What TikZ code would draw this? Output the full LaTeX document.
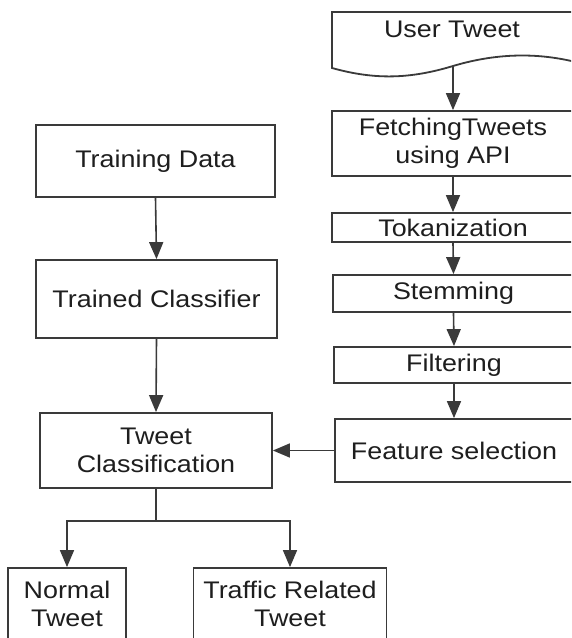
\documentclass[tikz,border=0pt]{standalone}
\usepackage{fontspec}
\setmainfont[FakeStretch=1.12]{Liberation Sans}
\usetikzlibrary{arrows.meta}
\definecolor{linec}{HTML}{3A3A3A}
\definecolor{textc}{HTML}{1E1E1E}
\begin{document}
\begin{tikzpicture}[x=1pt,y=-1pt,
  box/.style={draw=linec, line width=1.8pt, fill=white, text=textc,
    font=\fontsize{24}{28}\selectfont, align=center, inner sep=0pt},
  arr/.style={draw=linec, line width=1.6pt, -{Triangle[length=17pt,width=14pt]}},
  plain/.style={draw=linec, line width=1.6pt}]
\useasboundingbox (0,0) rectangle (571,638);
\clip (0,0) rectangle (571,638);
\fill[white] (0,0) rectangle (571,638);
% document shape: User Tweet
\draw[plain, line width=1.8pt] (332,68) -- (332,12) -- (590,12) -- (590,66)
  .. controls (545,52) and (500,52) .. (453,66)
  .. controls (410,79) and (375,80) .. (332,68) -- cycle;
\node[text=textc, font=\fontsize{24}{28}\selectfont] (ut) at (452,29) {User Tweet};
\coordinate (utb) at (453,66);
% right column
\node[box, minimum width=242pt, minimum height=65pt] (fetch) at (453,143.5) {FetchingTweets\\using API};
\node[box, minimum width=242pt, minimum height=29pt] (tok) at (453,227.5) {Tokanization};
\node[box, minimum width=241pt, minimum height=37pt] (stem) at (453.5,293.5) {Stemming};
\node[box, minimum width=240pt, minimum height=36pt] (filt) at (454,365) {Filtering};
\node[box, minimum width=238pt, minimum height=63pt] (feat) at (454,450.5) {Feature selection};
% left column
\node[box, minimum width=239pt, minimum height=72pt] (train) at (155.5,161) {Training Data};
\node[box, minimum width=241pt, minimum height=78pt] (trained) at (156.5,299) {Trained Classifier};
\node[box, minimum width=232pt, minimum height=75pt] (tc) at (156,450.5) {Tweet\\Classification};
\node[box, minimum width=118pt, minimum height=72pt] (normal) at (67,604) {Normal\\Tweet};
\node[box, minimum width=193pt, minimum height=72pt] (traffic) at (290,604) {Traffic Related\\Tweet};
% connectors
\draw[arr] (utb) -- (fetch.north);
\draw[arr] (fetch.south) -- (tok.north);
\draw[arr] (tok.south) -- (stem.north);
\draw[arr] (stem.south) -- (filt.north);
\draw[arr] (filt.south) -- (feat.north);
\draw[arr] (train.south) -- (trained.north);
\draw[arr] (trained.south) -- (tc.north);
\draw[arr] (feat.west) -- (tc.east);
\coordinate (br) at (156,521);
\draw[plain] (tc.south) -- (br);
\draw[arr] (br) -| (normal.north);
\draw[arr] (br) -| (traffic.north);
\end{tikzpicture}
\end{document}
